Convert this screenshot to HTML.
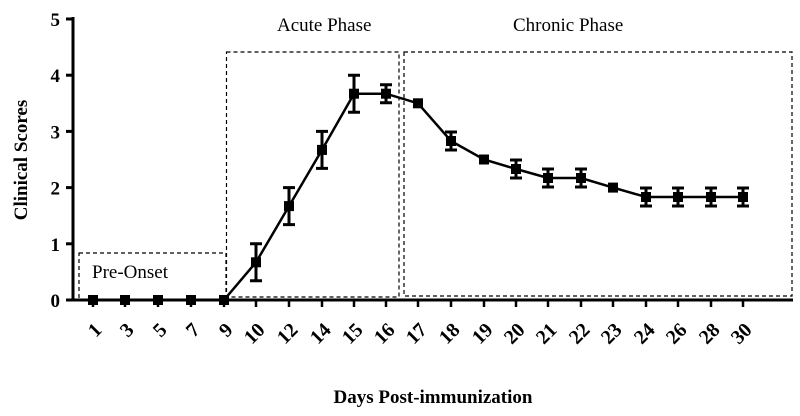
<!DOCTYPE html>
<html><head><style>body{margin:0;background:#fff}svg{display:block}text{font-family:"Liberation Serif",serif}</style></head><body>
<svg width="800" height="416" xmlns="http://www.w3.org/2000/svg">
<g fill="none" stroke="#000" stroke-width="1.2" stroke-dasharray="4,3">
<rect x="79" y="253" width="147" height="47"/>
<rect x="226.5" y="52" width="172.5" height="245"/>
<rect x="404" y="52" width="388" height="244"/>
</g>
<g stroke="#000" stroke-width="3" fill="none">
<line x1="73" y1="17" x2="73" y2="301.5"/>
<line x1="72" y1="300" x2="793" y2="300"/>
<line x1="66" y1="300" x2="73" y2="300"/><line x1="66" y1="243.8" x2="73" y2="243.8"/><line x1="66" y1="187.6" x2="73" y2="187.6"/><line x1="66" y1="131.4" x2="73" y2="131.4"/><line x1="66" y1="75.2" x2="73" y2="75.2"/><line x1="66" y1="19" x2="73" y2="19"/>
</g>
<g stroke="#000" stroke-width="2.5">
<line x1="93" y1="300" x2="93" y2="307"/><line x1="125" y1="300" x2="125" y2="307"/><line x1="158" y1="300" x2="158" y2="307"/><line x1="191" y1="300" x2="191" y2="307"/><line x1="224" y1="300" x2="224" y2="307"/><line x1="256" y1="300" x2="256" y2="307"/><line x1="289" y1="300" x2="289" y2="307"/><line x1="322" y1="300" x2="322" y2="307"/><line x1="354" y1="300" x2="354" y2="307"/><line x1="386" y1="300" x2="386" y2="307"/><line x1="418" y1="300" x2="418" y2="307"/><line x1="451" y1="300" x2="451" y2="307"/><line x1="484" y1="300" x2="484" y2="307"/><line x1="516" y1="300" x2="516" y2="307"/><line x1="548" y1="300" x2="548" y2="307"/><line x1="581" y1="300" x2="581" y2="307"/><line x1="613" y1="300" x2="613" y2="307"/><line x1="646" y1="300" x2="646" y2="307"/><line x1="678" y1="300" x2="678" y2="307"/><line x1="711" y1="300" x2="711" y2="307"/><line x1="743" y1="300" x2="743" y2="307"/>
</g>
<polyline fill="none" stroke="#000" stroke-width="2.5" points="93,300 224,300 256,262.3 289,206.1 322,149.9 354,93.7 386,93.7 418,103.3 451,141 484,159.5 516,169 548,178 581,178 613,187.6 646,197 743,197"/>
<g stroke="#000" stroke-width="3">
<path d="M256,243.8V280.8M250,243.8H262M250,280.8H262"/>
<path d="M289,187.6V224.6M283,187.6H295M283,224.6H295"/>
<path d="M322,131.4V168.4M316,131.4H328M316,168.4H328"/>
<path d="M354,75.2V112.2M348,75.2H360M348,112.2H360"/>
<path d="M386,84.7V102.7M380,84.7H392M380,102.7H392"/>
<path d="M451,132V150M445,132H457M445,150H457"/>
<path d="M516,160V178M510,160H522M510,178H522"/>
<path d="M548,169V187M542,169H554M542,187H554"/>
<path d="M581,169V187M575,169H587M575,187H587"/>
<path d="M646,188V206M640,188H652M640,206H652"/>
<path d="M678,188V206M672,188H684M672,206H684"/>
<path d="M711,188V206M705,188H717M705,206H717"/>
<path d="M743,188V206M737,188H749M737,206H749"/>
</g>
<g fill="#000">
<rect x="88" y="295" width="10" height="10"/><rect x="120" y="295" width="10" height="10"/><rect x="153" y="295" width="10" height="10"/><rect x="186" y="295" width="10" height="10"/><rect x="219" y="295" width="10" height="10"/>
<rect x="251" y="257.3" width="10" height="10"/><rect x="284" y="201.1" width="10" height="10"/><rect x="317" y="144.9" width="10" height="10"/><rect x="349" y="88.7" width="10" height="10"/><rect x="381" y="88.7" width="10" height="10"/><rect x="413" y="98.3" width="10" height="10"/><rect x="446" y="136" width="10" height="10"/><rect x="479" y="154.5" width="10" height="10"/><rect x="511" y="164" width="10" height="10"/><rect x="543" y="173" width="10" height="10"/><rect x="576" y="173" width="10" height="10"/><rect x="608" y="182.6" width="10" height="10"/><rect x="641" y="192" width="10" height="10"/><rect x="673" y="192" width="10" height="10"/><rect x="706" y="192" width="10" height="10"/><rect x="738" y="192" width="10" height="10"/>
</g>
<g font-size="19" font-weight="bold" text-anchor="end">
<text x="60" y="307">0</text><text x="60" y="250.8">1</text><text x="60" y="194.6">2</text><text x="60" y="138.4">3</text><text x="60" y="82.2">4</text><text x="60" y="26">5</text>
</g>
<g font-size="20" font-weight="bold" text-anchor="end">
<text transform="translate(103,331) rotate(-45)">1</text>
<text transform="translate(135,331) rotate(-45)">3</text>
<text transform="translate(168,331) rotate(-45)">5</text>
<text transform="translate(201,331) rotate(-45)">7</text>
<text transform="translate(234,331) rotate(-45)">9</text>
<text transform="translate(266,331) rotate(-45)">10</text>
<text transform="translate(299,331) rotate(-45)">12</text>
<text transform="translate(332,331) rotate(-45)">14</text>
<text transform="translate(364,331) rotate(-45)">15</text>
<text transform="translate(396,331) rotate(-45)">16</text>
<text transform="translate(428,331) rotate(-45)">17</text>
<text transform="translate(461,331) rotate(-45)">18</text>
<text transform="translate(494,331) rotate(-45)">19</text>
<text transform="translate(526,331) rotate(-45)">20</text>
<text transform="translate(558,331) rotate(-45)">21</text>
<text transform="translate(591,331) rotate(-45)">22</text>
<text transform="translate(623,331) rotate(-45)">23</text>
<text transform="translate(656,331) rotate(-45)">24</text>
<text transform="translate(688,331) rotate(-45)">26</text>
<text transform="translate(721,331) rotate(-45)">28</text>
<text transform="translate(753,331) rotate(-45)">30</text>
</g>
<text x="433" y="403" font-size="19" font-weight="bold" text-anchor="middle">Days Post-immunization</text>
<text transform="translate(27,160) rotate(-90)" font-size="19" font-weight="bold" text-anchor="middle">Clinical Scores</text>
<g font-size="19">
<text x="92" y="278">Pre-Onset</text>
<text x="277" y="31">Acute Phase</text>
<text x="513" y="31">Chronic Phase</text>
</g>
</svg>
</body></html>
